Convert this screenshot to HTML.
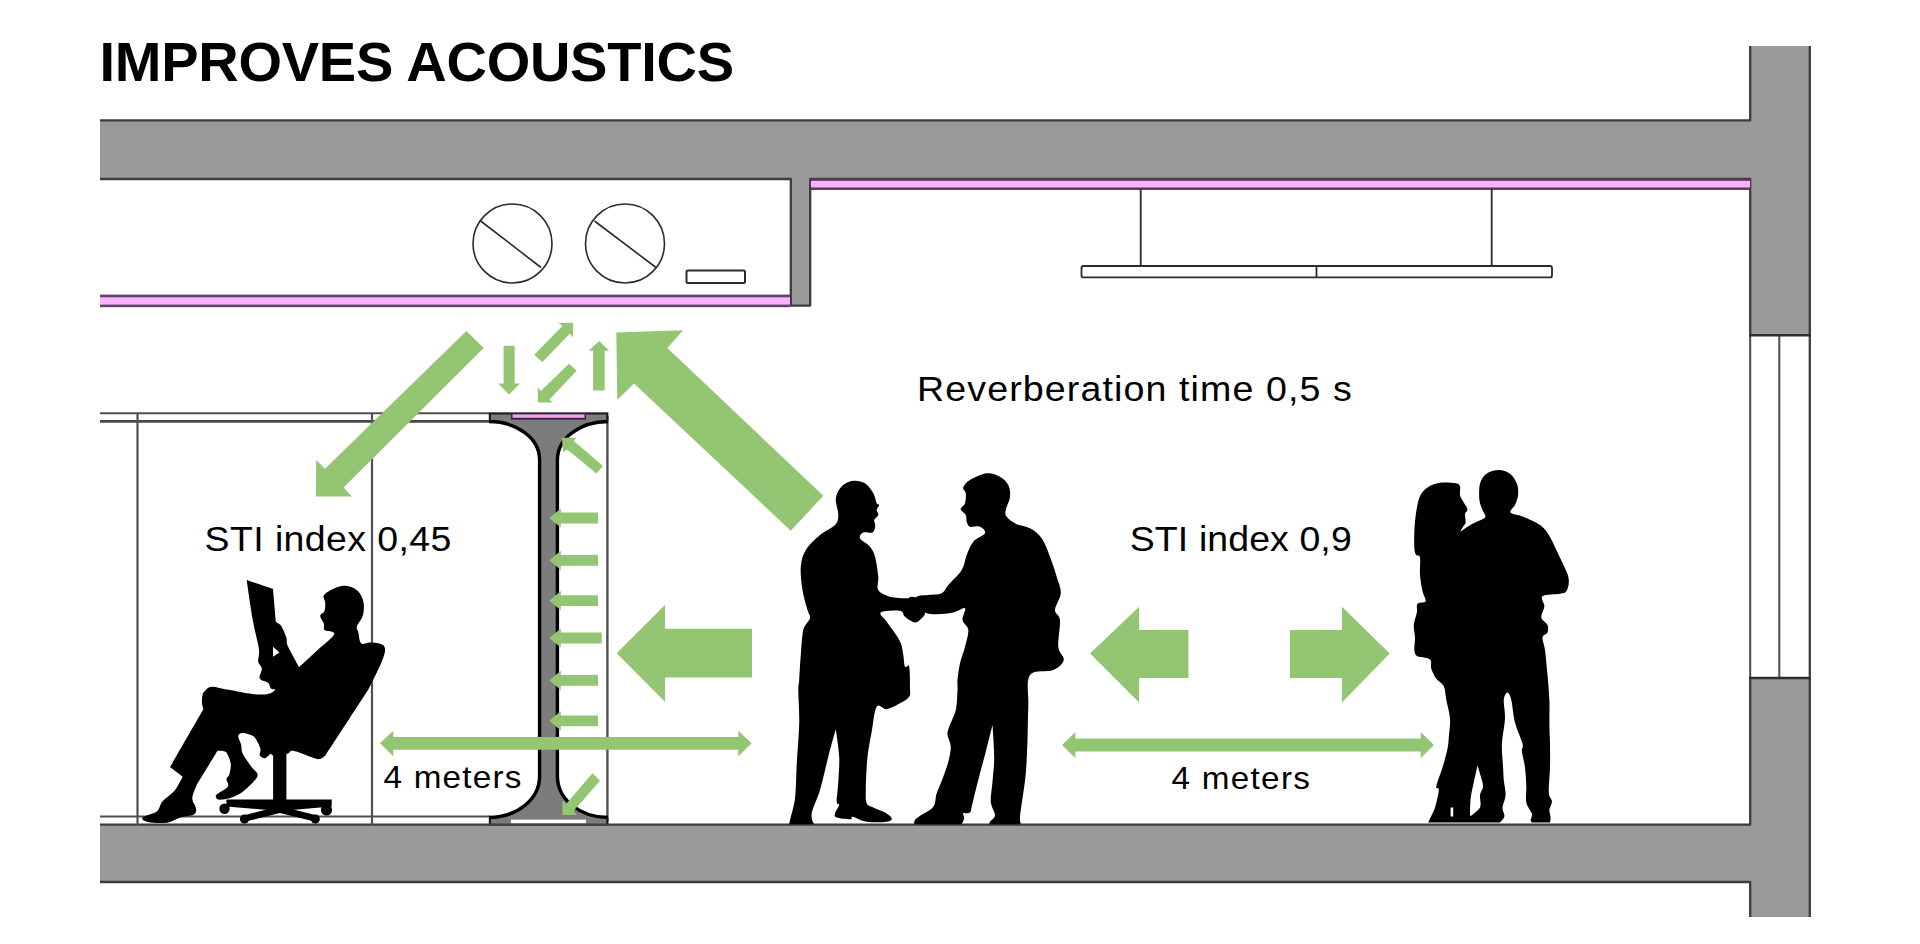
<!DOCTYPE html>
<html><head><meta charset="utf-8">
<style>
html,body{margin:0;padding:0;background:#fff;}
body{width:1920px;height:944px;overflow:hidden;}
svg{display:block;}
text{font-family:"Liberation Sans",sans-serif;fill:#000;}
</style></head>
<body>
<svg width="1920" height="944" viewBox="0 0 1920 944">
<rect width="1920" height="944" fill="#fff"/>

<!-- STRUCTURE -->
<g id="structure">
  <path d="M100 120 H1750 V46 H1811 V335 H1750 V180 H100 Z" fill="#9a9a9a"/>
  <path d="M100 825 H1750 V678 H1811 V917 H1750 V882 H100 Z" fill="#9a9a9a"/>
  <rect x="790" y="180" width="20.5" height="126" fill="#9a9a9a"/>
  <g fill="none" stroke="#3d3d3d" stroke-width="2.3" stroke-linejoin="round">
    <path d="M100 120.3 H1750.2 V46"/>
    <path d="M1809.8 46 V917"/>
    <path d="M100 179 H790.8 V305.6 H810.2 V179 H1750.2 V335.2"/>
    <path d="M100 824.6 H1750.2 V678"/>
    <path d="M100 882 H1750.2 V917"/>
  </g>
  <g fill="none" stroke="#4a4a4a" stroke-width="2">
    <path d="M1750.2 335 V678 M1779.3 335 V678"/>
  </g>
  <path d="M1749 335.2 H1811 M1749 678 H1811" stroke="#2e2e2e" stroke-width="2.6" fill="none"/>
</g>

<!-- PINK BANDS -->
<g id="pink">
  <rect x="100" y="294.6" width="690" height="12.6" fill="#63446a"/>
  <rect x="100" y="297.3" width="690" height="7.3" fill="#fbb1fb"/>
  <rect x="811" y="178" width="939" height="11.9" fill="#523856"/>
  <rect x="811" y="180.8" width="939" height="6.7" fill="#fbb1fb"/>
</g>

<!-- CEILING VOID ITEMS -->
<g fill="none" stroke="#2b2b2b" stroke-width="1.6">
  <circle cx="512.5" cy="243.5" r="39.5"/>
  <circle cx="625" cy="243.5" r="39.5"/>
  <path d="M480 220.5 L541 267.5 M594.5 221 L656 267.5"/>
  <rect x="686.5" y="270.5" width="58.5" height="12.5" rx="1.5" stroke-width="2"/>
</g>

<!-- SUSPENDED PANEL -->
<g fill="none" stroke="#2b2b2b" stroke-width="1.8">
  <path d="M1140.7 189 V266 M1491.7 189 V266"/>
  <rect x="1081.5" y="266" width="470.5" height="11.4" rx="2" fill="#fff"/>
  <path d="M1316.5 266 V277.4"/>
</g>

<!-- LEFT PARTITION LINES -->
<g fill="none" stroke="#505050">
  <path d="M100 413.3 H490" stroke-width="1.9"/>
  <path d="M100 421.4 H490" stroke-width="2.6" stroke="#484848"/>
  <path d="M137.5 413 V825 M372 413 V825" stroke-width="2.2"/>
  <path d="M100 816.5 H490" stroke-width="2"/>
  <path d="M607.4 416 V822" stroke-width="2.4"/>
</g>

<!-- COLUMN -->
<g id="column">
  <path d="M489 412.5 H608 V421.5 A50 38 0 0 0 559 459.5 V776.5 A49 41 0 0 0 608 817.5 V824.5 H489 V817.5 A49 41 0 0 0 538 776.5 V459.5 A50 38 0 0 0 489 421.5 Z" fill="#7c7c7c"/>
  <path d="M489 421.5 A50.6 38 0 0 1 539.6 459.5 V776.5 A50.6 41 0 0 1 489 817.5" fill="none" stroke="#000" stroke-width="3.4"/>
  <path d="M608 421.5 A50.6 38 0 0 0 557.4 459.5 V776.5 A50.6 41 0 0 0 608 817.5" fill="none" stroke="#000" stroke-width="3.4"/>
  <path d="M489 413.5 H608 M489.9 412.5 V421.5 M607.3 412.5 V421.5 M489.9 817.5 V824.5 M607.3 817.5 V824.5" stroke="#1c1c1c" stroke-width="2.2" fill="none"/>
  <rect x="511" y="413" width="75" height="6.6" fill="#3a1f3e"/>
  <rect x="512.5" y="414.4" width="72" height="3.4" fill="#eaa6ee"/>
  <rect x="511" y="819.6" width="75" height="3.8" fill="#fff"/>
  <path d="M489 824.6 H608" stroke="#3d3d3d" stroke-width="2.4" fill="none"/>
</g>

<!-- PEOPLE -->
<g id="people" fill="#000">
  <path d="M246.7 580.1 C246.7 580.1 273.0 589.0 273.0 589.0 C273.0 589.0 275.9 622.1 275.9 622.1 C275.9 622.1 279.8 623.8 281.5 626.4 C283.2 629.0 285.3 634.3 286.4 637.6 C287.4 640.9 285.7 641.2 287.8 646.1 C289.9 651.0 299.1 667.2 299.1 667.2 C299.1 667.2 311.8 655.5 317.4 650.3 C323.0 645.1 330.3 639.2 332.9 636.2 C335.5 633.2 334.3 633.0 332.9 632.0 C331.5 631.0 326.0 631.3 324.5 629.9 C323.0 628.5 324.5 626.0 323.8 623.6 C323.1 621.2 320.1 617.9 320.2 615.8 C320.3 613.7 323.7 613.1 324.5 610.9 C325.3 608.7 325.3 605.0 325.2 602.4 C325.1 599.8 322.5 597.6 323.8 595.4 C325.1 593.2 329.5 590.6 332.9 589.0 C336.3 587.4 340.7 585.9 344.2 585.8 C347.7 585.7 351.3 586.7 354.1 588.3 C356.9 589.9 359.5 592.6 361.1 595.4 C362.7 598.2 363.7 601.7 363.9 605.2 C364.1 608.7 363.7 613.0 362.5 616.5 C361.3 620.0 357.6 623.8 356.9 626.4 C356.2 629.0 357.6 629.2 358.3 632.0 C359.0 634.8 359.2 641.5 361.1 643.3 C363.0 645.1 366.3 642.5 369.6 642.6 C372.9 642.7 378.2 643.0 380.8 644.0 C383.4 645.0 384.9 646.2 385.1 648.9 C385.4 651.6 384.0 655.7 382.3 660.2 C380.6 664.7 377.6 670.8 375.2 675.7 C372.8 680.6 368.2 689.8 368.2 689.8 C368.2 689.8 325.7 755.2 325.7 755.2 C325.7 755.2 322.0 758.6 319.8 759.0 C317.6 759.4 316.8 758.9 312.4 757.5 C307.9 756.1 297.3 751.4 293.1 750.8 C288.9 750.2 290.5 753.1 287.2 753.8 C283.9 754.5 275.8 755.2 273.1 755.2 C270.4 755.2 272.3 753.3 270.9 753.8 C269.5 754.3 266.8 758.0 264.9 758.2 C263.0 758.4 260.4 756.7 259.7 755.2 C259.0 753.7 260.9 751.5 260.5 749.3 C260.1 747.1 258.7 744.1 257.5 741.9 C256.3 739.7 255.6 737.5 253.1 736.0 C250.6 734.5 245.2 733.0 242.7 733.0 C240.2 733.0 238.4 734.0 238.2 736.0 C237.9 738.0 240.4 741.9 241.2 744.9 C241.9 747.9 241.0 750.1 242.7 753.8 C244.4 757.5 249.1 763.4 251.6 767.1 C254.1 770.8 258.5 772.3 257.5 776.0 C256.5 779.7 249.6 785.8 245.7 789.3 C241.8 792.8 238.0 795.1 233.8 796.8 C229.6 798.5 223.5 799.6 220.5 799.7 C217.5 799.8 216.5 798.5 216.0 797.5 C215.5 796.5 215.5 795.6 217.5 793.8 C219.5 791.9 226.4 788.9 227.9 786.4 C229.4 783.9 226.2 781.0 226.4 779.0 C226.6 777.0 228.6 777.0 229.3 774.5 C230.0 772.0 231.0 767.3 230.8 764.1 C230.6 760.9 228.9 757.3 227.9 755.2 C226.9 753.1 226.6 752.2 224.9 751.5 C223.2 750.8 217.5 750.8 217.5 750.8 C217.5 750.8 196.7 784.9 196.7 784.9 C196.7 784.9 192.4 794.2 192.3 798.2 C192.2 802.2 195.8 805.9 196.0 808.6 C196.2 811.3 196.4 813.1 193.8 814.6 C191.2 816.1 184.9 816.1 180.4 817.5 C175.9 818.9 172.5 822.0 167.1 822.7 C161.7 823.5 151.9 822.9 147.8 822.0 C143.7 821.1 141.1 819.2 142.6 817.5 C144.1 815.8 153.4 814.3 156.7 811.6 C160.0 808.9 159.6 804.7 162.6 801.2 C165.6 797.7 171.2 794.9 174.5 790.8 C177.8 786.7 182.6 776.7 182.6 776.7 C182.6 776.7 170.0 767.1 170.0 767.1 C170.0 767.1 203.4 709.3 203.4 709.3 C203.4 709.3 202.0 704.4 201.9 701.9 C201.8 699.4 202.2 696.2 202.7 694.4 C203.2 692.6 203.2 692.5 204.7 691.2 C206.2 689.9 207.7 686.9 211.7 686.7 C215.7 686.5 221.8 688.6 228.6 689.8 C235.4 691.0 246.0 693.3 252.6 694.0 C259.2 694.7 264.3 694.7 268.1 694.0 C271.9 693.3 274.7 690.7 275.2 689.8 C275.7 688.9 272.1 689.6 270.9 688.4 C269.7 687.2 270.0 684.4 268.1 682.7 C266.2 681.1 260.8 680.9 259.7 678.5 C258.6 676.1 262.1 671.4 261.8 668.6 C261.6 665.8 258.7 664.9 258.2 661.6 C257.7 658.3 259.8 656.0 258.9 648.9 C258.0 641.8 254.6 630.8 252.6 619.3 C250.6 607.8 246.7 580.1 246.7 580.1Z"/>
  <path d="M273 646.8 L279.4 652.4 L273 656.7 Z" fill="#fff"/>
  <rect x="273.1" y="752" width="13.3" height="50"/>
  <path d="M226.4 799.5 H331.7 V806.5 L280 811 L226.4 806.5 Z"/>
  <path d="M279.8 806 L243 815.5 L245.5 821.5 L279.8 813 L314.5 821.5 L317 815.5 Z"/>
  <circle cx="224.5" cy="808.8" r="5.2"/><circle cx="326.5" cy="810" r="5.6"/>
  <circle cx="244.5" cy="819" r="4.6"/><circle cx="315.3" cy="819" r="4.6"/>
  <path d="M853.3 480.8 C857.1 480.4 861.7 481.2 865.0 483.3 C868.3 485.4 871.3 490.0 873.3 493.3 C875.2 496.6 875.7 501.4 876.7 503.3 C877.7 505.2 879.2 503.9 879.2 505.0 C879.2 506.1 876.9 508.3 876.7 510.0 C876.6 511.7 878.7 513.3 878.3 515.0 C877.9 516.7 874.7 518.2 874.2 520.0 C873.7 521.8 875.6 523.7 875.3 525.8 C875.0 527.9 874.5 531.4 872.5 532.5 C870.5 533.6 865.4 531.5 863.3 532.5 C861.2 533.5 858.9 535.9 860.0 538.3 C861.1 540.7 867.5 543.6 870.0 546.7 C872.5 549.8 873.6 551.7 875.0 556.7 C876.4 561.7 877.8 571.2 878.3 576.7 C878.8 582.2 876.3 586.7 878.3 590.0 C880.2 593.3 885.3 595.3 890.0 596.7 C894.7 598.1 903.1 598.3 906.7 598.3 C910.3 598.3 909.2 596.4 911.7 596.7 C914.2 597.0 919.5 597.4 921.7 600.0 C923.9 602.6 925.0 609.5 925.0 612.5 C925.0 615.5 923.4 616.6 921.7 618.3 C920.0 620.0 917.8 622.8 915.0 622.5 C912.2 622.2 907.5 618.7 905.0 616.7 C902.5 614.8 904.0 611.5 900.0 610.8 C896.0 610.1 883.0 610.7 880.8 612.5 C878.6 614.3 884.3 618.2 886.7 621.7 C889.1 625.2 892.6 629.7 895.0 633.3 C897.4 636.9 899.4 639.7 900.8 643.3 C902.2 646.9 902.6 651.1 903.3 655.0 C904.0 658.9 904.0 664.8 905.0 666.7 C906.0 668.7 908.4 663.1 909.2 666.7 C910.0 670.3 910.0 683.3 910.0 688.3 C910.0 693.3 910.9 694.2 909.2 696.7 C907.5 699.2 903.8 701.2 900.0 703.3 C896.2 705.4 890.6 708.6 886.7 709.2 C882.8 709.8 879.2 703.0 876.7 706.7 C874.2 710.5 873.2 723.4 871.7 731.7 C870.2 740.0 868.5 747.0 867.5 756.7 C866.5 766.4 865.9 782.2 865.8 790.0 C865.7 797.8 865.5 800.4 866.7 803.3 C868.0 806.2 870.2 806.0 873.3 807.5 C876.3 809.0 881.9 810.7 885.0 812.5 C888.1 814.3 891.4 816.8 891.7 818.3 C892.0 819.8 890.9 821.1 886.7 821.7 C882.5 822.3 872.4 822.5 866.7 821.7 C861.0 820.9 855.1 817.1 852.5 816.7 C849.9 816.3 853.4 819.1 850.8 819.2 C848.2 819.3 839.3 818.5 836.7 817.5 C834.1 816.5 834.6 815.4 835.0 813.3 C835.4 811.2 838.9 806.9 839.2 805.0 C839.5 803.1 836.9 805.6 836.7 801.7 C836.6 797.8 837.9 789.2 838.3 781.7 C838.7 774.2 839.6 765.5 839.2 756.7 C838.8 748.0 835.8 729.2 835.8 729.2 C835.8 729.2 830.9 746.6 828.3 756.7 C825.7 766.8 822.8 780.6 820.0 790.0 C817.2 799.4 812.7 807.6 811.7 813.3 C810.7 819.0 814.2 824.2 814.2 824.2 C814.2 824.2 789.2 824.2 789.2 824.2 C789.2 824.2 789.0 824.3 790.0 820.0 C791.0 815.7 793.9 807.5 795.0 798.3 C796.1 789.1 796.0 777.5 796.7 765.0 C797.4 752.5 798.9 735.8 799.2 723.3 C799.5 710.8 798.3 697.2 798.3 690.0 C798.3 682.8 798.8 685.8 799.2 680.0 C799.6 674.2 800.1 663.3 800.8 655.0 C801.5 646.7 801.8 636.1 803.3 630.0 C804.8 623.9 809.3 621.6 810.0 618.3 C810.7 615.0 808.8 614.7 807.5 610.0 C806.2 605.3 803.6 597.2 802.5 590.0 C801.4 582.8 800.2 573.4 800.8 566.7 C801.3 560.0 802.6 555.3 805.8 550.0 C809.0 544.7 815.1 539.2 820.0 535.0 C824.9 530.8 832.0 528.3 835.0 525.0 C838.0 521.7 838.2 519.5 838.3 515.0 C838.4 510.6 835.2 503.1 835.8 498.3 C836.4 493.5 839.1 488.9 842.0 486.0 C844.9 483.1 849.5 481.2 853.3 480.8Z"/>
  <path d="M986.7 473.3 C991.7 472.8 996.4 474.8 1000.0 476.7 C1003.6 478.6 1006.6 481.7 1008.3 485.0 C1010.0 488.3 1010.4 492.5 1010.0 496.7 C1009.6 500.9 1006.3 506.7 1005.8 510.0 C1005.2 513.3 1004.9 514.3 1006.7 516.7 C1008.5 519.1 1012.8 522.3 1016.7 524.2 C1020.6 526.1 1025.8 525.9 1030.0 528.3 C1034.2 530.6 1038.4 533.6 1041.7 538.3 C1045.0 543.0 1047.5 550.3 1050.0 556.7 C1052.5 563.1 1054.9 570.6 1056.7 576.7 C1058.5 582.8 1061.1 587.8 1060.8 593.3 C1060.5 598.8 1055.1 605.5 1055.0 610.0 C1054.9 614.5 1059.5 613.9 1060.0 620.0 C1060.5 626.1 1057.7 640.0 1058.3 646.7 C1058.9 653.4 1064.5 656.1 1063.7 660.0 C1062.9 663.9 1058.9 667.5 1053.3 670.0 C1047.7 672.5 1034.2 669.2 1030.0 675.0 C1025.8 680.8 1028.7 694.2 1028.3 705.0 C1027.9 715.8 1027.9 728.6 1027.5 740.0 C1027.1 751.4 1026.6 763.6 1025.8 773.3 C1025.0 783.0 1023.5 791.1 1022.5 798.3 C1021.5 805.5 1020.3 812.4 1020.0 816.7 C1019.7 821.0 1020.8 824.2 1020.8 824.2 C1020.8 824.2 989.2 824.2 989.2 824.2 C989.2 824.2 989.0 823.2 990.0 821.7 C991.0 820.2 994.9 818.3 995.0 815.0 C995.1 811.7 991.2 807.2 990.8 801.7 C990.4 796.2 991.9 789.2 992.5 781.7 C993.1 774.2 994.2 766.2 994.2 756.7 C994.2 747.2 992.5 725.0 992.5 725.0 C992.5 725.0 988.8 740.2 986.7 748.3 C984.6 756.3 982.4 764.1 980.0 773.3 C977.6 782.5 974.2 796.8 972.5 803.3 C970.8 809.8 971.5 810.8 970.0 812.5 C968.5 814.2 964.3 812.3 963.3 813.3 C962.3 814.3 964.5 816.5 964.2 818.3 C963.9 820.1 961.7 824.2 961.7 824.2 C961.7 824.2 914.2 824.2 914.2 824.2 C914.2 824.2 914.0 821.4 915.0 820.0 C916.0 818.6 917.0 818.0 920.0 815.8 C923.0 813.6 930.5 810.5 933.3 806.7 C936.1 803.0 935.0 798.3 936.7 793.3 C938.4 788.3 941.4 782.0 943.3 776.7 C945.2 771.4 947.0 766.7 948.3 761.7 C949.5 756.7 950.9 751.2 950.8 746.7 C950.7 742.2 947.8 738.3 947.5 735.0 C947.2 731.7 947.8 730.9 949.2 726.7 C950.6 722.5 954.4 716.1 955.8 710.0 C957.2 703.9 957.2 695.0 957.5 690.0 C957.8 685.0 957.1 684.5 957.5 680.0 C957.9 675.5 958.8 668.8 960.0 663.3 C961.2 657.8 963.6 652.2 965.0 646.7 C966.4 641.2 968.7 634.5 968.3 630.0 C967.9 625.5 963.0 623.6 962.5 620.0 C962.0 616.4 966.5 609.5 965.0 608.3 C963.5 607.0 958.0 611.5 953.3 612.5 C948.6 613.5 941.4 614.2 936.7 614.2 C932.0 614.2 928.3 614.0 925.0 612.5 C921.7 611.0 918.1 607.6 916.7 605.0 C915.3 602.4 914.8 598.4 916.7 596.7 C918.6 595.0 924.1 595.6 928.3 595.0 C932.5 594.4 938.4 595.0 941.7 593.3 C945.0 591.6 945.0 588.9 948.3 585.0 C951.6 581.1 958.6 575.0 961.7 570.0 C964.8 565.0 964.8 559.7 966.7 555.0 C968.6 550.3 970.2 545.3 973.3 541.7 C976.3 538.1 983.9 535.8 985.0 533.3 C986.1 530.8 982.5 527.8 980.0 526.7 C977.5 525.6 972.2 527.5 970.0 526.7 C967.8 525.9 967.4 523.7 966.7 521.7 C966.0 519.8 966.8 517.1 965.8 515.0 C964.8 512.9 960.9 511.1 960.8 509.2 C960.7 507.2 964.2 505.9 965.0 503.3 C965.8 500.7 966.1 495.9 965.8 493.3 C965.5 490.7 962.6 489.7 963.3 487.5 C964.0 485.3 966.1 482.4 970.0 480.0 C973.9 477.6 981.7 473.9 986.7 473.3Z"/>
  <path d="M1440.0 482.8 C1444.6 482.1 1451.7 482.5 1455.0 483.1 C1458.3 483.7 1459.2 484.3 1460.0 486.3 C1460.8 488.3 1459.5 492.5 1460.0 495.0 C1460.5 497.5 1461.8 498.9 1463.1 501.3 C1464.3 503.7 1467.2 507.3 1467.5 509.4 C1467.8 511.5 1465.3 511.6 1465.0 513.8 C1464.7 516.0 1466.0 520.2 1465.6 522.5 C1465.2 524.8 1463.4 525.9 1462.5 527.5 C1461.6 529.1 1460.0 531.9 1460.0 531.9 C1460.0 531.9 1468.3 526.2 1472.5 523.8 C1476.7 521.4 1483.3 519.8 1485.0 517.5 C1486.7 515.2 1483.4 512.9 1482.5 510.0 C1481.6 507.1 1479.8 504.4 1479.4 500.0 C1479.0 495.6 1478.8 488.2 1480.0 483.8 C1481.2 479.4 1483.2 476.1 1486.3 473.8 C1489.4 471.5 1494.8 470.0 1498.8 470.0 C1502.8 470.0 1507.0 471.5 1510.0 473.8 C1513.0 476.1 1515.6 480.3 1516.9 483.8 C1518.2 487.3 1518.4 491.5 1518.1 495.0 C1517.8 498.5 1516.2 502.1 1515.0 505.0 C1513.8 507.9 1509.1 510.5 1510.6 512.5 C1512.1 514.5 1518.9 514.8 1523.8 516.9 C1528.7 519.0 1535.8 522.0 1540.0 525.0 C1544.2 528.0 1545.9 530.4 1548.8 535.0 C1551.7 539.6 1554.5 546.2 1557.5 552.5 C1560.5 558.8 1565.0 567.5 1566.9 572.5 C1568.8 577.5 1568.9 579.4 1568.8 582.5 C1568.7 585.6 1567.8 589.4 1566.3 591.3 C1564.8 593.2 1564.0 593.0 1560.0 593.8 C1556.0 594.6 1545.1 594.2 1542.5 596.3 C1539.9 598.4 1544.6 602.8 1544.4 606.3 C1544.2 609.8 1540.8 614.4 1541.3 617.5 C1541.8 620.6 1546.5 622.5 1547.5 625.0 C1548.5 627.5 1548.3 630.4 1547.5 632.5 C1546.7 634.6 1542.9 634.6 1542.5 637.5 C1542.1 640.4 1544.2 643.8 1545.0 650.0 C1545.8 656.2 1546.8 666.7 1547.5 675.0 C1548.2 683.3 1549.1 691.7 1549.4 700.0 C1549.7 708.3 1549.3 717.7 1549.4 725.0 C1549.5 732.3 1549.9 736.7 1550.0 743.8 C1550.1 750.9 1550.2 759.4 1550.0 767.5 C1549.8 775.6 1548.5 786.9 1548.8 792.5 C1549.1 798.1 1551.8 798.4 1551.9 801.3 C1552.0 804.2 1549.6 807.3 1549.4 810.0 C1549.2 812.7 1550.5 815.4 1550.6 817.5 C1550.7 819.6 1550.0 822.5 1550.0 822.5 C1550.0 822.5 1531.9 822.5 1531.9 822.5 C1531.9 822.5 1530.6 821.5 1530.6 820.0 C1530.6 818.5 1532.6 816.7 1531.9 813.8 C1531.2 810.9 1527.2 807.1 1526.3 802.5 C1525.4 797.9 1526.5 792.1 1526.3 786.3 C1526.1 780.5 1525.7 773.3 1525.0 767.5 C1524.3 761.7 1522.3 755.2 1521.9 751.3 C1521.5 747.3 1523.7 748.6 1522.5 743.8 C1521.3 739.0 1516.9 729.8 1515.0 722.5 C1513.1 715.2 1512.5 705.0 1511.3 700.0 C1510.0 695.0 1508.8 692.5 1507.5 692.5 C1506.2 692.5 1504.2 695.6 1503.8 700.0 C1503.4 704.4 1505.3 711.5 1505.0 718.8 C1504.7 726.1 1502.2 735.7 1501.9 743.8 C1501.6 751.9 1502.8 761.5 1503.1 767.5 C1503.4 773.5 1503.4 775.4 1503.8 780.0 C1504.2 784.6 1505.8 790.4 1505.6 795.0 C1505.4 799.6 1502.7 804.0 1502.5 807.5 C1502.3 811.0 1504.8 813.8 1504.4 816.3 C1504.0 818.8 1500.0 822.5 1500.0 822.5 C1500.0 822.5 1429.4 822.5 1429.4 822.5 C1429.4 822.5 1427.9 823.8 1428.8 821.3 C1429.7 818.8 1433.3 812.7 1435.0 807.5 C1436.7 802.3 1438.6 793.5 1438.8 790.0 C1439.0 786.5 1435.7 790.0 1436.3 786.3 C1436.9 782.5 1440.6 773.8 1442.5 767.5 C1444.4 761.2 1446.5 753.8 1447.5 748.8 C1448.5 743.8 1448.4 742.5 1448.8 737.5 C1449.2 732.5 1450.4 725.0 1450.0 718.8 C1449.6 712.5 1447.3 705.4 1446.3 700.0 C1445.3 694.6 1445.5 689.8 1443.8 686.3 C1442.1 682.8 1438.4 681.7 1436.3 678.8 C1434.2 675.9 1432.3 672.0 1431.3 668.8 C1430.2 665.6 1432.3 661.5 1430.0 659.4 C1427.7 657.3 1420.1 657.9 1417.5 656.3 C1414.9 654.7 1414.8 653.1 1414.4 650.0 C1414.0 646.9 1415.1 641.7 1415.0 637.5 C1414.9 633.3 1413.5 629.2 1413.8 625.0 C1414.1 620.8 1416.3 616.0 1416.9 612.5 C1417.5 609.0 1416.0 605.7 1417.5 603.8 C1419.0 601.9 1424.8 603.4 1425.6 601.3 C1426.4 599.2 1423.4 595.7 1422.5 591.3 C1421.6 586.9 1420.4 580.6 1420.0 575.0 C1419.6 569.4 1420.6 560.8 1420.0 557.5 C1419.4 554.2 1417.2 556.5 1416.3 555.0 C1415.4 553.5 1414.7 553.0 1414.4 548.8 C1414.1 544.6 1414.1 536.2 1414.4 530.0 C1414.7 523.8 1415.4 516.9 1416.3 511.3 C1417.2 505.7 1418.1 500.3 1420.0 496.3 C1421.9 492.3 1424.2 489.8 1427.5 487.5 C1430.8 485.2 1435.4 483.5 1440.0 482.8Z"/>
  <path d="M1477.5 765.6 C1477.5 765.6 1479.1 770.3 1480.0 773.8 C1480.9 777.2 1483.1 782.8 1483.1 786.3 C1483.1 789.8 1480.5 791.5 1480.0 795.0 C1479.5 798.5 1481.7 804.0 1480.0 807.5 C1478.3 811.0 1470.0 816.3 1470.0 816.3 C1470.0 816.3 1470.0 804.4 1470.6 798.8 C1471.2 793.2 1472.6 788.0 1473.8 782.5 C1475.0 777.0 1477.5 765.6 1477.5 765.6Z" fill="#fff"/>
  <rect x="1450.6" y="807.5" width="2.6" height="9" fill="#fff"/>
</g>

<!-- GREEN ARROWS -->
<g id="arrows" fill="#93c572">
  <path d="M466.4 330.9 L483.7 348 L343.6 487.4 L351.8 496.5 L315.9 496.5 L316.2 460 L325 468.8 Z"/>
  <path d="M823.3 495.8 L790.8 530.8 L634 383.5 L617.3 399.8 L616.3 332.4 L683 330.3 L667.4 348 Z"/>
  <path d="M503.6 345.7 H514.7 V383.4 H520 L509.1 394.5 L498 383.4 H503.6 Z"/>
  <path d="M593.1 390.5 H604.7 V350.7 H609.2 L599.2 341 L588.6 350.7 H593.1 Z"/>
  <path d="M534.3 354.7 L542.3 362.1 L570 333.6 L573 337.6 L573 322.8 L558.4 323 L562.4 326.1 Z"/>
  <path d="M569 363.8 L576.7 370.8 L549.4 399.5 L552.9 402.5 L537.8 402.5 L537.8 387.4 L540.8 391 Z"/>
  <path d="M603 466.1 L596.4 473.6 L567.1 449.4 L562.9 451.9 L562 437.7 L576.3 437.7 L573.8 441 Z"/>
  <path d="M592.5 773.3 L600 780.8 L573.5 811 L576.7 815 L562.5 815 L562.5 800 L566 804 Z"/>
  <path d="M598.0 512.6 H560.8 V508.4 L549.2 518.0 L560.8 527.6 V523.4 H598.0 Z M598.0 554.9 H560.8 V550.7 L549.2 560.3 L560.8 569.9 V565.7 H598.0 Z M598.0 595.3 H560.8 V591.1 L549.2 600.7 L560.8 610.3 V606.1 H598.0 Z M601.7 632.6 H560.8 V628.4 L549.2 638.0 L560.8 647.6 V643.4 H601.7 Z M598.0 675.0 H560.8 V670.8 L549.2 680.4 L560.8 690.0 V685.8 H598.0 Z M598.0 715.4 H560.8 V711.2 L549.2 720.8 L560.8 730.4 V726.2 H598.0 Z"/>
  <path d="M616.7 653.3 L665 605 V628.7 H752 V677.5 H665 V701.7 Z"/>
  <path d="M1090.1 653.4 L1139.1 606.8 V630.1 H1188.5 V677.9 H1139.1 V702.4 Z"/>
  <path d="M1389.7 653.4 L1341.9 606.8 V630.1 H1289.9 V677.9 H1341.9 V702.4 Z"/>
  <path d="M380 743.3 L393.3 730.8 V737 H738.3 V730.8 L751.7 743.3 L738.3 756.3 V749.7 H393.3 V756.3 Z"/>
  <path d="M1062.1 745 L1075.4 732 V738.5 H1420.7 V732 L1433.9 745 L1420.7 758.3 V751.5 H1075.4 V758.3 Z"/>
</g>

<!-- TEXT -->
<g id="text">
  <text x="99.5" y="80.9" font-size="56" font-weight="bold" textLength="634.5" lengthAdjust="spacing">IMPROVES ACOUSTICS</text>
  <g transform="translate(917 400.8) scale(1.09 1)"><text x="0" y="0" font-size="34.5" textLength="399" lengthAdjust="spacing">Reverberation time 0,5 s</text></g>
  <g transform="translate(204.6 551.3) scale(1.07 1)"><text x="0" y="0" font-size="35" textLength="230.6" lengthAdjust="spacing">STI index 0,45</text></g>
  <g transform="translate(1129.8 551.3) scale(1.07 1)"><text x="0" y="0" font-size="35" textLength="207.4" lengthAdjust="spacing">STI index 0,9</text></g>
  <g transform="translate(383.4 788.4) scale(1.09 1)"><text x="0" y="0" font-size="30.5" textLength="126.7" lengthAdjust="spacing">4 meters</text></g>
  <g transform="translate(1171.4 788.6) scale(1.09 1)"><text x="0" y="0" font-size="30.5" textLength="127.1" lengthAdjust="spacing">4 meters</text></g>
</g>
</svg>
</body></html>
